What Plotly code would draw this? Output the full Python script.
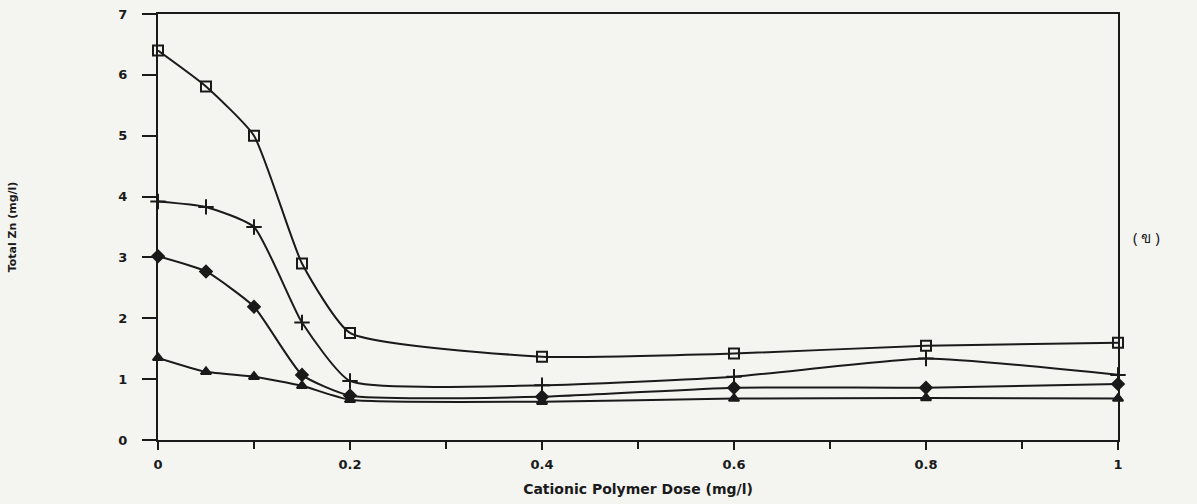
import plotly.graph_objects as go

dose = [0, 0.05, 0.1, 0.15, 0.2, 0.4, 0.6, 0.8, 1.0]
series_square = [6.40, 5.81, 5.00, 2.90, 1.76, 1.37, 1.42, 1.55, 1.60]
series_plus = [3.92, 3.83, 3.50, 1.93, 0.97, 0.90, 1.04, 1.34, 1.07]
series_diamond = [3.02, 2.77, 2.19, 1.07, 0.73, 0.71, 0.86, 0.86, 0.92]
series_triangle = [1.35, 1.12, 1.04, 0.89, 0.66, 0.63, 0.68, 0.69, 0.68]

x_tickvals = [0, 0.2, 0.4, 0.6, 0.8, 1]
x_ticktext = ["0", "0.2", "0.4", "0.6", "0.8", "1"]
y_tickvals = [0, 1, 2, 3, 4, 5, 6, 7]

FONT = "DejaVu Sans"
INK = "#1a1a1a"
BG = "#f4f4f1"

fig = go.Figure()
specs = [
    (series_square, "square-open", 10),
    (series_plus, "cross-thin-open", 11),
    (series_diamond, "diamond", 9),
    (series_triangle, "triangle-up", 9),
]
for ys, sym, sz in specs:
    fig.add_trace(go.Scatter(
        x=dose, y=ys, mode="lines+markers",
        line=dict(color=INK, width=2, shape="spline", smoothing=0.5),
        marker=dict(symbol=sym, size=sz, color=INK,
                    line=dict(color=INK, width=2)),
        showlegend=False, cliponaxis=False,
    ))

fig.update_xaxes(
    range=[0, 1], tickmode="array", tickvals=x_tickvals, ticktext=x_ticktext,
    showgrid=False, zeroline=False, showline=True, linecolor=INK, linewidth=2,
    mirror=True, ticks="outside", ticklen=8, tickwidth=2, tickcolor=INK,
    minor=dict(tickmode="array", tickvals=[0.1, 0.3, 0.5, 0.7, 0.9],
               ticks="outside", ticklen=7, tickwidth=2, tickcolor=INK),
    tickfont=dict(family=FONT, size=13, color=INK, weight="bold"),
    ticklabelstandoff=3, automargin=False,
    title=dict(text="Cationic Polymer Dose (mg/l)",
               font=dict(family=FONT, size=14, color=INK, weight="bold"), standoff=14),
)
fig.update_yaxes(
    range=[0, 7], tickmode="array", tickvals=y_tickvals,
    showgrid=False, zeroline=False, showline=True, linecolor=INK, linewidth=2,
    mirror=True, ticks="outside", ticklen=14, tickwidth=2, tickcolor=INK,
    tickfont=dict(family=FONT, size=13, color=INK, weight="bold"),
    ticklabelstandoff=12, automargin=False,
    title=dict(text="Total Zn (mg/l)",
               font=dict(family=FONT, size=11, color=INK, weight="bold"), standoff=100),
)

fig.add_annotation(
    text="( ข )", xref="paper", yref="paper", x=1.03, y=0.477,
    xanchor="center", yanchor="middle",
    showarrow=False, font=dict(family="Noto Sans, DejaVu Sans", size=15, color=INK),
)

fig.update_layout(
    width=1197, height=504,
    margin=dict(l=158, r=79, t=14, b=64, autoexpand=False),
    paper_bgcolor=BG, plot_bgcolor=BG,
    font=dict(family=FONT, color=INK),
)

fig.write_html(
    "out.html",
    config={"displayModeBar": False},
    post_script="document.body.style.margin='0';document.body.style.background='%s';"
                "document.body.style.overflow='hidden';" % BG,
)
